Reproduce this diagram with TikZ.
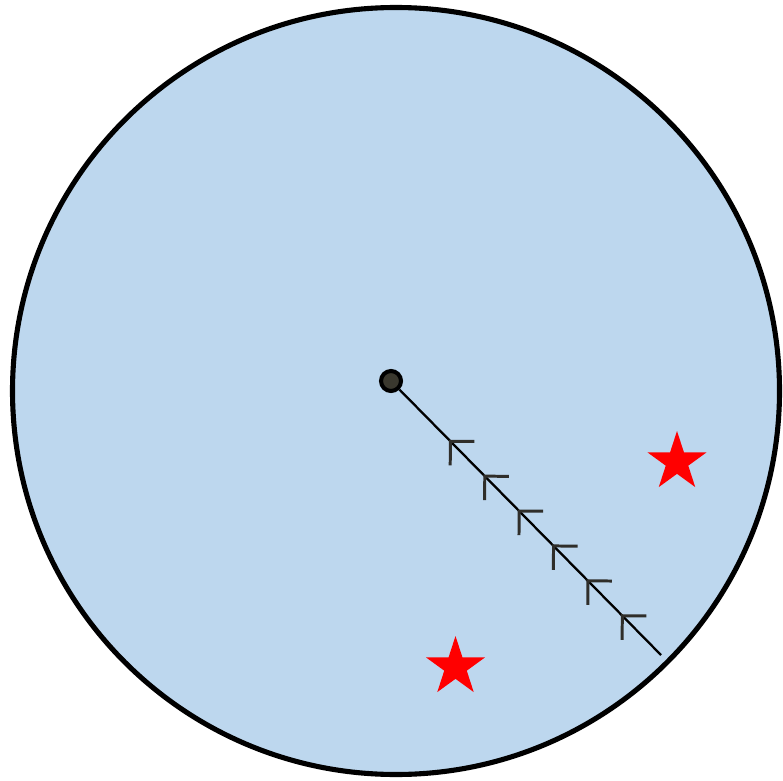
\documentclass[tikz,border=0pt]{standalone}
\usepackage{tikz}
\usepackage{xcolor}
\usetikzlibrary{arrows.meta, positioning, shapes.geometric, decorations.markings}
\definecolor{diskblue}{HTML}{BDD7EE}
\definecolor{dotgray}{HTML}{3A382E}
\definecolor{barbgray}{HTML}{2F2E2A}
\definecolor{starred}{HTML}{FF0000}

\begin{document}
\begin{tikzpicture}[
  x=0.02cm, y=-0.02cm,
  source/.style={circle, draw=black, line width=2.3pt, fill=dotgray, minimum size=0.4cm, inner sep=0pt},
  target/.style={star, star points=5, star point ratio=2.618, fill=starred, draw=none, minimum size=1.24cm, inner sep=0pt},
  flow/.style={line width=1.3pt, postaction={decorate},
    decoration={markings, mark=between positions 1.41cm and 6.4cm step 0.98cm with {\arrowreversed[barbgray]{Straight Barb[length=0.34cm, width=0.68cm, line width=1.7pt]}}}},
]
\useasboundingbox (0,0) rectangle (783,780);
\draw[line width=2.9pt, fill=diskblue] (396,391) circle (383.5);

\node[source] (src) at (391,381) {};
\coordinate (tail) at (661,655);
\draw[flow] (src) -- (tail);

\node[target] (star1) at (677,462) {};
\node[target] (star2) at (455.5,667) {};

\end{tikzpicture}
\end{document}
